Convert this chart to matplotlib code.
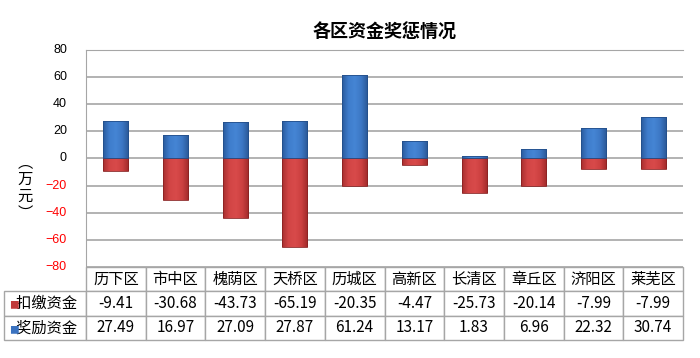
import numpy as np
import matplotlib.pyplot as plt
from matplotlib.colors import LinearSegmentedColormap

plt.rcParams['font.family'] = ['Noto Sans CJK SC', 'DejaVu Sans']

districts = ['历下区', '市中区', '槐荫区', '天桥区', '历城区', '高新区', '长清区', '章丘区', '济阳区', '莱芜区']
penalty = [-9.41, -30.68, -43.73, -65.19, -20.35, -4.47, -25.73, -20.14, -7.99, -7.99]
reward = [27.49, 16.97, 27.09, 27.87, 61.24, 13.17, 1.83, 6.96, 22.32, 30.74]
series_names = ['扣缴资金', '奖励资金']
yticks = [80, 60, 40, 20, 0, -20, -40, -60, -80]

fig = plt.figure(figsize=(7, 3.58), dpi=100)
ax = fig.add_axes([86 / 700, 1 - 267 / 358, 597 / 700, 217 / 358])

x = np.arange(len(districts))
w = 0.42
blue_cm = LinearSegmentedColormap.from_list('b', ['#2a5b9e', '#3f7dcc', '#4585d4', '#3c77c4', '#2a5896'])
red_cm = LinearSegmentedColormap.from_list('r', ['#a83030', '#d24545', '#d84a4a', '#cc4040', '#a02a2a'])
grad = np.linspace(0, 1, 50).reshape(1, -1)

def gbar(vals, cmap, edge):
    bars = ax.bar(x, vals, w, color='none', edgecolor=edge, linewidth=0.6, zorder=3)
    for b in bars:
        x0, y0 = b.get_x(), b.get_y()
        bw, bh = b.get_width(), b.get_height()
        im = ax.imshow(grad, cmap=cmap, aspect='auto', zorder=2.5,
                       extent=[x0, x0 + bw, y0, y0 + bh])
        im.set_clip_path(b)
    return bars

gbar(penalty, red_cm, '#8a2222')
gbar(reward, blue_cm, '#244f8a')

ax.set_xlim(-0.5, len(districts) - 0.5)
ax.set_ylim(-80, 80)
ax.set_yticks(yticks)
ax.tick_params(axis='y', length=0, labelleft=False)
ax.tick_params(axis='x', length=0, labelbottom=False)
# y tick labels, negatives in red
for v in yticks:
    ax.text(-0.032, v, str(v).replace('-', '−'), transform=ax.get_yaxis_transform(),
            ha='right', va='center', fontsize=9, family=['Liberation Sans', 'DejaVu Sans'],
            color='#ff0000' if v < 0 else 'black')
ax.yaxis.grid(True, color='#a6a6a6', linewidth=1.2, zorder=0)
for s in ['right', 'bottom']:
    ax.spines[s].set_visible(False)
for s in ['left', 'top']:
    ax.spines[s].set_color('#a6a6a6')
ax.set_axisbelow(True)

ax.set_title('各区资金奖惩情况', fontsize=13, fontweight='bold', pad=9)
fig.text(25 / 700, 1 - 188 / 358, '︵\n万\n元\n︶', ha='center', va='center',
         fontsize=11, linespacing=1.0)

# data table
fmt = lambda v: f'{v:.2f}'
cells = [['   ' + series_names[0]] + [fmt(v) for v in penalty],
         ['   ' + series_names[1]] + [fmt(v) for v in reward]]
lw = 82 / 597
tbl = ax.table(cellText=cells, colLabels=[''] + districts,
               bbox=[-lw, -73 / 217, 1 + lw, 73 / 217],
               colWidths=[lw] + [1 / len(districts)] * len(districts),
               cellLoc='center')
tbl.auto_set_font_size(False)
for (r, c), cell in tbl.get_celld().items():
    cell.set_edgecolor('#a6a6a6')
    cell.set_linewidth(1.0)
    cell.get_text().set_fontsize(11)
    if r == 0 and c == 0:
        cell.visible_edges = ''
    if c == 0 and r > 0:
        cell.get_text().set_ha('left')
        cell.PAD = 0.02
for i, col in enumerate(['#c03a3a', '#3a72c0']):
    ax.text(-lw + 0.016, -(24 + 25 * i + 12.5) / 217 - 0.01, '■', transform=ax.transAxes,
            fontsize=7, color=col, ha='center', va='center')

fig.savefig('out.png', dpi=100)
